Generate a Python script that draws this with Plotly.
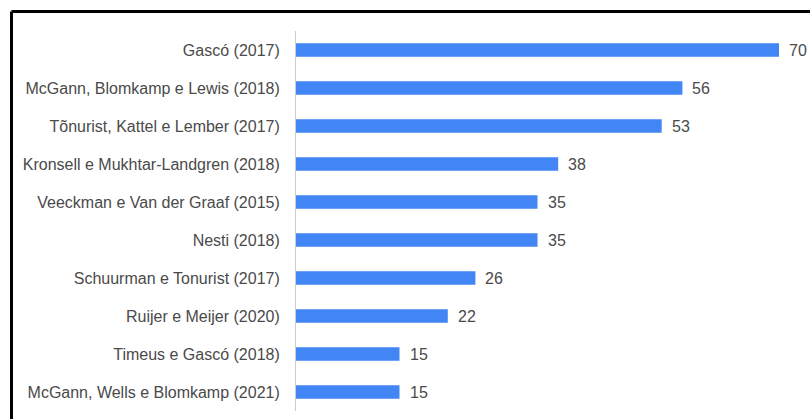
import plotly.graph_objects as go

studies = [
    "Gascó (2017)",
    "McGann, Blomkamp e Lewis (2018)",
    "Tõnurist, Kattel e Lember (2017)",
    "Kronsell e Mukhtar-Landgren (2018)",
    "Veeckman e Van der Graaf (2015)",
    "Nesti (2018)",
    "Schuurman e Tonurist (2017)",
    "Ruijer e Meijer (2020)",
    "Timeus e Gascó (2018)",
    "McGann, Wells e Blomkamp (2021)",
]
citations = [70, 56, 53, 38, 35, 35, 26, 22, 15, 15]

W, H = 810, 419
left, right, top, bottom = 296, 800, 31, 411
plot_w = right - left
plot_h = bottom - top
px_per_unit = 6.9
x_max = plot_w / px_per_unit

FONT = "Arial, Liberation Sans, sans-serif"
TEXT_COLOR = "#4a4a4a"

fig = go.Figure(
    go.Bar(
        x=citations,
        y=studies,
        orientation="h",
        marker=dict(color="#4285F4", line=dict(width=0)),
        width=0.36,
        hoverinfo="x+y",
    )
)

# value labels to the right of each bar
for s, v in zip(studies, citations):
    fig.add_annotation(
        x=v, y=s, text=str(v), showarrow=False,
        xanchor="left", yanchor="middle", xshift=8,
        font=dict(family=FONT, size=16, color=TEXT_COLOR),
    )

# frame around the chart (left and top edges visible)
def px_x(p):
    return (p - left) / plot_w

def px_y(p):
    return (bottom - p) / plot_h

frame = dict(color="#000000", width=3)
fig.add_shape(type="line", xref="paper", yref="paper",
              x0=px_x(11.5), x1=px_x(812), y0=px_y(11.5), y1=px_y(11.5), line=frame)
fig.add_shape(type="line", xref="paper", yref="paper",
              x0=px_x(11.5), x1=px_x(11.5), y0=px_y(11.5), y1=px_y(425), line=frame)

fig.update_layout(
    width=W, height=H,
    margin=dict(l=left, r=W - right, t=top, b=H - bottom, pad=0),
    paper_bgcolor="white", plot_bgcolor="white",
    showlegend=False,
    font=dict(family=FONT, size=16, color=TEXT_COLOR),
    xaxis=dict(range=[0, x_max], showgrid=False, zeroline=False,
               showticklabels=False, showline=False, fixedrange=True),
    yaxis=dict(categoryorder="array", categoryarray=studies[::-1],
               showgrid=False, zeroline=False, showline=True,
               linecolor="#cccccc", linewidth=1, ticks="",
               ticklabelstandoff=12, range=[-0.5, len(studies) - 0.5]),
)

fig.write_html("out.html")
